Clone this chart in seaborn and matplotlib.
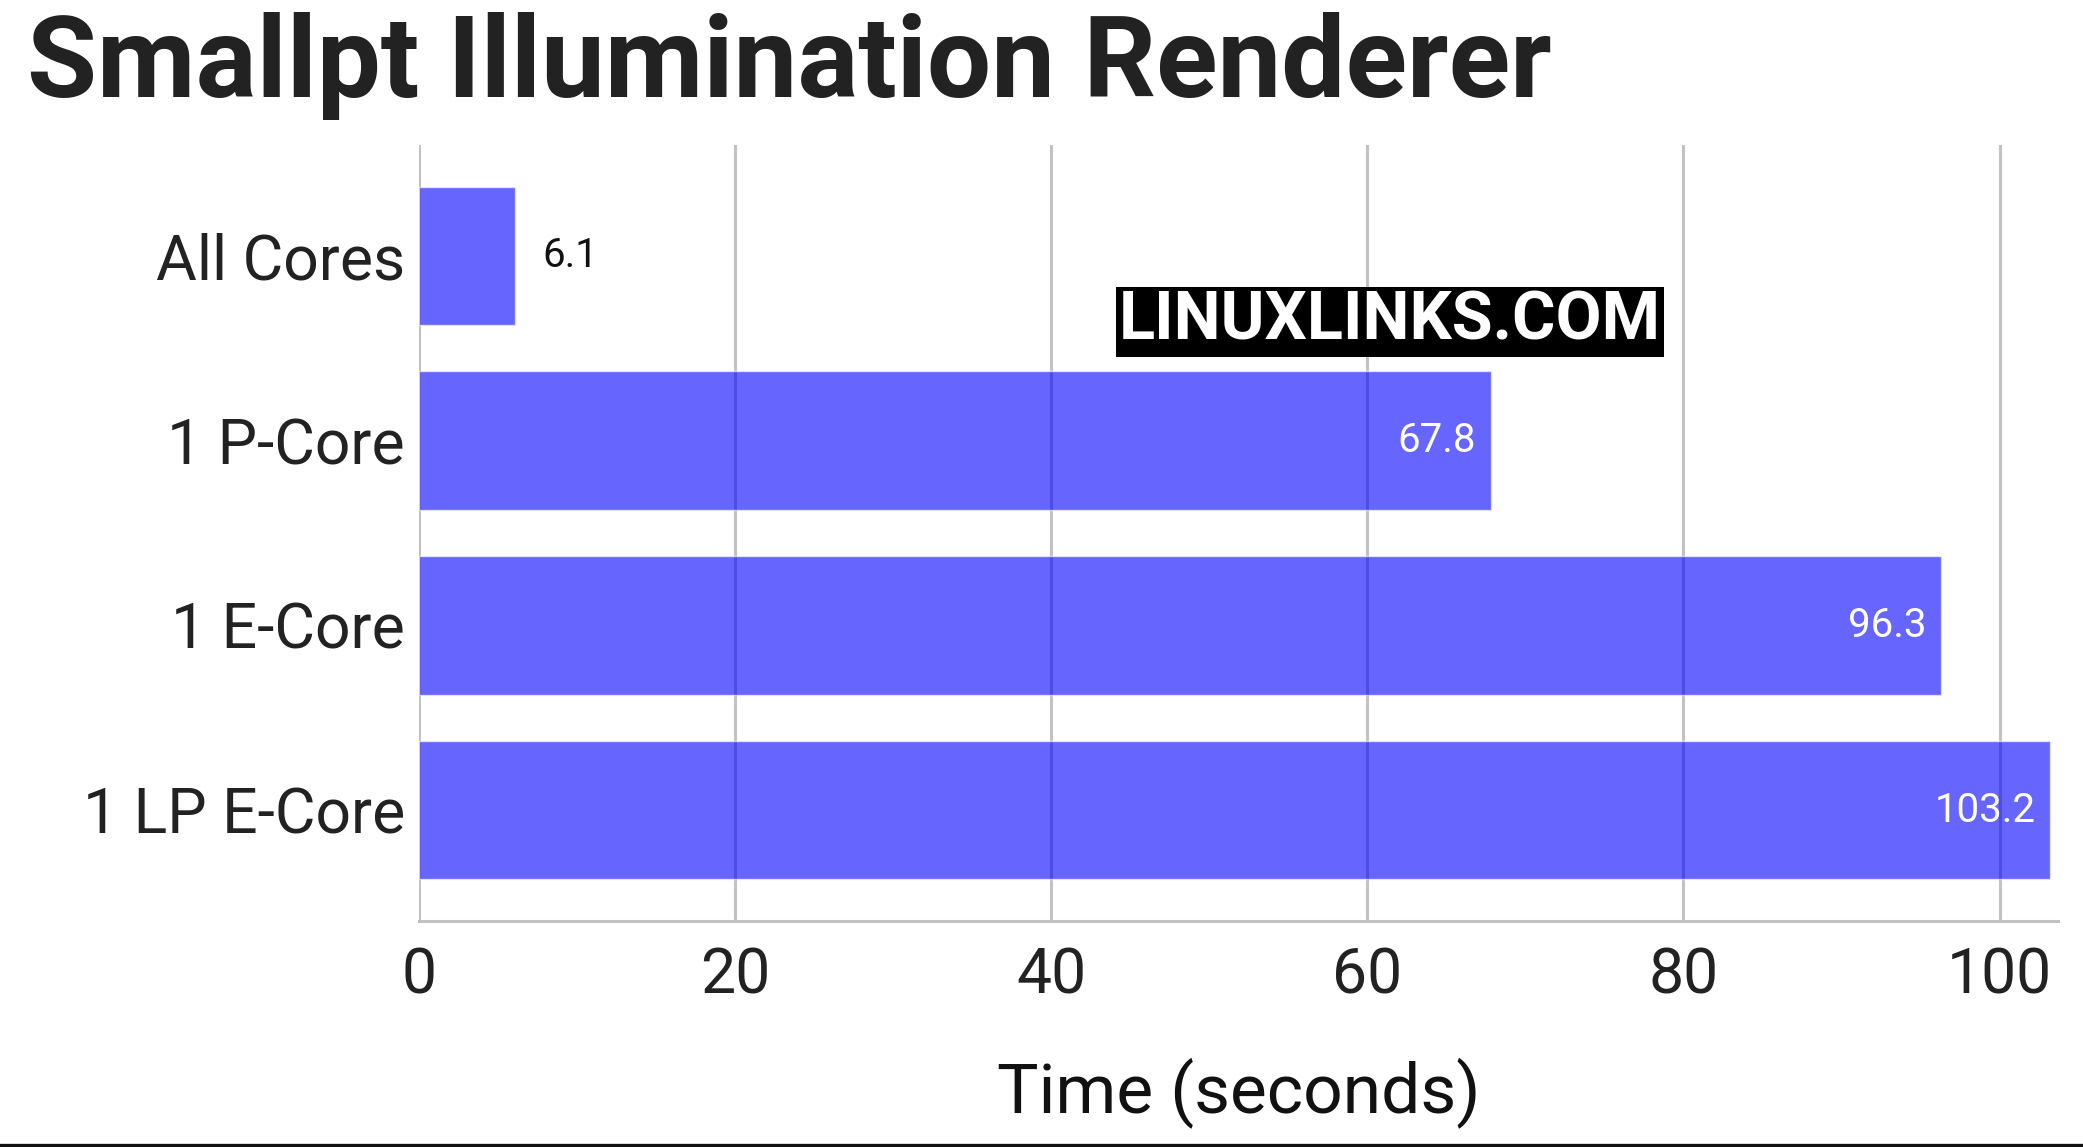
import matplotlib
matplotlib.use("Agg")
import matplotlib.pyplot as plt
import seaborn as sns
import pandas as pd
from matplotlib.lines import Line2D

categories = ["All Cores", "1 P-Core", "1 E-Core", "1 LP E-Core"]
times = [6.1, 67.8, 96.3, 103.2]
value_labels = ["6.1", "67.8", "96.3", "103.2"]
xticks = [0, 20, 40, 60, 80, 100]

title = "Smallpt Illumination Renderer"
xlabel = "Time (seconds)"
watermark = "LINUXLINKS.COM"

sns.set_theme(style="white")
FONT = ["Roboto", "DejaVu Sans"]
plt.rcParams["font.family"] = FONT

W, H = 2083, 1147
fig = plt.figure(figsize=(W / 100, H / 100), dpi=100)
ax = fig.add_axes([419 / W, 1 - 921 / H, (2058 - 419) / W, (921 - 145) / H])

df = pd.DataFrame({"cat": categories, "t": times})
sns.barplot(data=df, x="t", y="cat", orient="h", color=(0, 0, 1), alpha=0.6,
            saturation=1, width=0.75, ax=ax)

ax.set_xlim(0, 103.7)
ax.set_ylim(3.6, -0.6)
ax.set_xticks(xticks)
ax.set_axisbelow(True)
ax.xaxis.grid(True, color="#c2c2c2", linewidth=2.2)
ax.yaxis.grid(False)
for s in ["top", "right", "left"]:
    ax.spines[s].set_visible(False)
ax.spines["bottom"].set_color("#c2c2c2")
ax.spines["bottom"].set_linewidth(2.2)
ax.tick_params(axis="x", length=0, pad=18, labelsize=45, labelcolor="#222222")
ax.tick_params(axis="y", length=0, pad=10, labelsize=45, labelcolor="#222222")
ax.set_ylabel("")
ax.set_xlabel(xlabel, fontsize=50, color="#111111", labelpad=37)

for i, (v, lab) in enumerate(zip(times, value_labels)):
    if v < 20:
        ax.text(v + 1.7, i, lab, ha="left", va="center", fontsize=29, color="#111111")
    else:
        ax.text(v - 0.9, i, lab, ha="right", va="center", fontsize=29, color="white")

fig.text(27 / W, 1 - 97 / H, title, fontsize=82, fontweight="bold",
         color="#222222", ha="left", va="baseline")

fig.text(1390 / W, 1 - 322 / H, watermark, fontsize=48, fontweight="bold",
         color="white", ha="center", va="center",
         bbox=dict(boxstyle="square,pad=0.04", facecolor="black", edgecolor="none"))

fig.add_artist(Line2D([0, 1], [2.5 / H, 2.5 / H], color="#111111", linewidth=2.4,
                      transform=fig.transFigure))

fig.savefig("out.png", dpi=100, facecolor="white")
